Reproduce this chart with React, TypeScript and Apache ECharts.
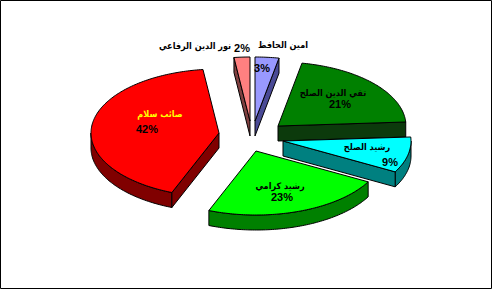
import React, { useEffect, useRef } from "react";
import * as echarts from "echarts";

// Vote shares by candidate, listed clockwise from twelve o'clock
const candidates = [
  "امين الحافظ",
  "تقي الدين الصلح",
  "رشيد الصلح",
  "رشيد كرامي",
  "صائب سلام",
  "نور الدين الرفاعي",
];
const shares = [3, 21, 9, 23, 42, 2];

// Colours: top face, side walls, name text
const faceColors = ["#9999FF", "#008000", "#00FFFF", "#00FF00", "#FF0000", "#FF8080"];
const wallColors = ["#4a4a96", "#0c3a0c", "#008080", "#008000", "#800000", "#804040"];
const nameColors = ["#000000", "#000000", "#000000", "#000000", "#FFFF00", "#000000"];

// 3D pie layout
const CENTER = [252, 137];
const RX = 128;
const RY = 64;
const DEPTH = 15;
// how far each slice is pulled out of the pie, in pixels
const explodeOffset = [[3, -16], [26, -11], [31, 4], [4, 14], [-33, -4], [-2, -16]];
// label anchors relative to each slice's apex
const nameOffset = [[28, -76], [55, -33], [84, 6], [24, 35], [-59, -19], [-55, -75]];
const pctOffset = [[7, -53], [62, -22], [107, 21], [26, 46], [-72, -4], [-8, -73]];
// back-to-front drawing order
const drawOrder = [5, 0, 1, 4, 2, 3];

const NAME_FONT = "bold 9px 'DejaVu Sans Condensed', 'DejaVu Sans', sans-serif";
const PCT_FONT = "bold 11px Arial, 'Liberation Sans', sans-serif";

export default function App() {
  const ref = useRef<HTMLDivElement>(null);

  useEffect(() => {
    if (!ref.current) return;
    const chart = echarts.init(ref.current, undefined, { renderer: "svg" });

    const total = shares.reduce((a, b) => a + b, 0);
    const starts: number[] = [];
    let acc = 0;
    shares.forEach((v) => {
      starts.push((acc / total) * 360);
      acc += v;
    });

    const rad = (d: number) => (d * Math.PI) / 180;
    const pt = (tx: number, ty: number, deg: number, dy = 0) => [
      tx + RX * Math.sin(rad(deg)),
      ty - RY * Math.cos(rad(deg)) + dy,
    ];
    const arc = (tx: number, ty: number, a0: number, a1: number, dy = 0) => {
      const pts: number[][] = [];
      const n = Math.max(2, Math.ceil(Math.abs(a1 - a0)));
      for (let i = 0; i <= n; i++) pts.push(pt(tx, ty, a0 + ((a1 - a0) * i) / n, dy));
      return pts;
    };

    const renderItem = (params: any, api: any) => {
      const i = params.dataIndex;
      const value = api.value(0);
      const a0 = starts[i];
      const a1 = a0 + (value / total) * 360;
      const tx = CENTER[0] + explodeOffset[i][0];
      const ty = CENTER[1] + explodeOffset[i][1];
      const base = drawOrder.indexOf(i) * 10;
      const line = { stroke: "#000", lineWidth: 1, lineJoin: "miter" };
      const children: any[] = [];

      // curved outer wall, only the part facing the viewer
      const lo = Math.max(a0, 90);
      const hi = Math.min(a1, 270);
      if (hi > lo) {
        const top = arc(tx, ty, lo, hi);
        const bottom = arc(tx, ty, hi, lo, DEPTH);
        children.push({
          type: "polygon",
          z2: base + 1,
          shape: { points: top.concat(bottom) },
          style: { fill: wallColors[i], ...line },
        });
      }

      // radial walls that face the viewer
      const radialWall = (deg: number) => {
        const e = pt(tx, ty, deg);
        children.push({
          type: "polygon",
          z2: base + 2,
          shape: { points: [[tx, ty], e, [e[0], e[1] + DEPTH], [tx, ty + DEPTH]] },
          style: { fill: wallColors[i], ...line },
        });
      };
      if (Math.sin(rad(a0)) < -1e-6) radialWall(a0);
      if (Math.sin(rad(a1)) > 1e-6) radialWall(a1);

      // top face
      children.push({
        type: "polygon",
        z2: base + 3,
        shape: { points: [[tx, ty]].concat(arc(tx, ty, a0, a1)) },
        style: { fill: faceColors[i], ...line },
      });

      // labels
      children.push({
        type: "text",
        z2: 200,
        x: tx + nameOffset[i][0],
        y: ty + nameOffset[i][1],
        style: {
          text: candidates[i],
          fill: nameColors[i],
          font: NAME_FONT,
          align: "center",
          verticalAlign: "middle",
        },
      });
      children.push({
        type: "text",
        z2: 200,
        x: tx + pctOffset[i][0],
        y: ty + pctOffset[i][1],
        style: {
          text: `${Math.round((value / total) * 100)}%`,
          fill: "#000",
          font: PCT_FONT,
          align: "center",
          verticalAlign: "middle",
        },
      });

      return { type: "group", children };
    };

    chart.setOption({
      animation: false,
      backgroundColor: "#ffffff",
      graphic: [
        {
          type: "rect",
          shape: { x: 0.5, y: 0.5, width: 491, height: 288 },
          style: { fill: "none", stroke: "#000", lineWidth: 1 },
          silent: true,
        },
      ],
      series: [
        {
          type: "custom",
          coordinateSystem: "none",
          renderItem,
          data: shares.map((v, i) => ({ name: candidates[i], value: [v] })),
        },
      ],
    });

    return () => chart.dispose();
  }, []);

  return (
    <div
      ref={ref}
      style={{ position: "fixed", left: 0, top: 0, width: 493, height: 290 }}
    />
  );
}
